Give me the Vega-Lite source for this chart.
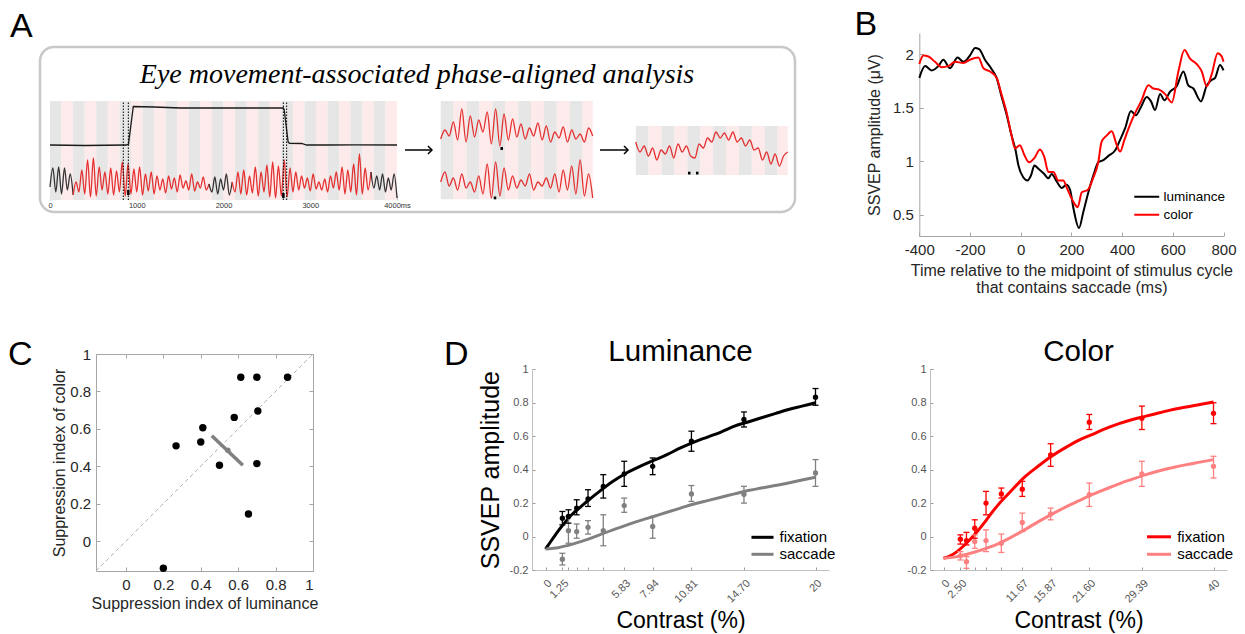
{
"$schema":"https://vega.github.io/schema/vega-lite/v6.json",
"padding":{"left":8,"top":8,"right":2,"bottom":2},
"background":"white",
"config":{"view":{"stroke":null},"font":"Liberation Sans","axis":{"grid":false,"titleFontWeight":"normal"},"title":{"fontWeight":"normal","color":"#000000"},"legend":{"labelFont":"Liberation Sans"}},
"datasets":{
"aBox":[{"t":-115.3,"t2":8587.9,"v":0,"v2":165}],
"aTitle":[{"t":4231,"v":128.7,"label":"Eye movement-associated phase-aligned analysis"}],
"aBands":[
{"t":0,"t2":133.3,"v":12,"v2":111,"c":"g"},{"t":133.3,"t2":266.7,"v":12,"v2":111,"c":"p"},{"t":266.7,"t2":400,"v":12,"v2":111,"c":"g"},{"t":400,"t2":533.3,"v":12,"v2":111,"c":"p"},{"t":533.3,"t2":666.7,"v":12,"v2":111,"c":"g"},{"t":666.7,"t2":800,"v":12,"v2":111,"c":"p"},{"t":800,"t2":933.3,"v":12,"v2":111,"c":"g"},{"t":933.3,"t2":1066.7,"v":12,"v2":111,"c":"p"},{"t":1066.7,"t2":1200,"v":12,"v2":111,"c":"g"},{"t":1200,"t2":1333.3,"v":12,"v2":111,"c":"p"},{"t":1333.3,"t2":1466.7,"v":12,"v2":111,"c":"g"},{"t":1466.7,"t2":1600,"v":12,"v2":111,"c":"p"},{"t":1600,"t2":1733.3,"v":12,"v2":111,"c":"g"},{"t":1733.3,"t2":1866.7,"v":12,"v2":111,"c":"p"},{"t":1866.7,"t2":2000,"v":12,"v2":111,"c":"g"},{"t":2000,"t2":2133.3,"v":12,"v2":111,"c":"p"},{"t":2133.3,"t2":2266.7,"v":12,"v2":111,"c":"g"},{"t":2266.7,"t2":2400,"v":12,"v2":111,"c":"p"},{"t":2400,"t2":2533.3,"v":12,"v2":111,"c":"g"},{"t":2533.3,"t2":2666.7,"v":12,"v2":111,"c":"p"},{"t":2666.7,"t2":2800,"v":12,"v2":111,"c":"g"},{"t":2800,"t2":2933.3,"v":12,"v2":111,"c":"p"},{"t":2933.3,"t2":3066.7,"v":12,"v2":111,"c":"g"},{"t":3066.7,"t2":3200,"v":12,"v2":111,"c":"p"},{"t":3200,"t2":3333.3,"v":12,"v2":111,"c":"g"},{"t":3333.3,"t2":3466.7,"v":12,"v2":111,"c":"p"},{"t":3466.7,"t2":3600,"v":12,"v2":111,"c":"g"},{"t":3600,"t2":3733.3,"v":12,"v2":111,"c":"p"},{"t":3733.3,"t2":3866.7,"v":12,"v2":111,"c":"g"},{"t":3866.7,"t2":4000,"v":12,"v2":111,"c":"p"},
{"t":4504,"t2":4652.7,"v":12.7,"v2":111,"c":"g"},{"t":4652.7,"t2":4801.4,"v":12.7,"v2":111,"c":"p"},{"t":4801.4,"t2":4950.1,"v":12.7,"v2":111,"c":"g"},{"t":4950.1,"t2":5098.8,"v":12.7,"v2":111,"c":"p"},{"t":5098.8,"t2":5247.5,"v":12.7,"v2":111,"c":"g"},{"t":5247.5,"t2":5396.2,"v":12.7,"v2":111,"c":"p"},{"t":5396.2,"t2":5544.9,"v":12.7,"v2":111,"c":"g"},{"t":5544.9,"t2":5693.6,"v":12.7,"v2":111,"c":"p"},{"t":5693.6,"t2":5842.3,"v":12.7,"v2":111,"c":"g"},{"t":5842.3,"t2":5991,"v":12.7,"v2":111,"c":"p"},{"t":5991,"t2":6139.7,"v":12.7,"v2":111,"c":"g"},{"t":6139.7,"t2":6256,"v":12.7,"v2":111,"c":"p"},
{"t":6752,"t2":6900.7,"v":37,"v2":86,"c":"g"},{"t":6900.7,"t2":7049.4,"v":37,"v2":86,"c":"p"},{"t":7049.4,"t2":7198.1,"v":37,"v2":86,"c":"g"},{"t":7198.1,"t2":7346.8,"v":37,"v2":86,"c":"p"},{"t":7346.8,"t2":7495.5,"v":37,"v2":86,"c":"g"},{"t":7495.5,"t2":7644.2,"v":37,"v2":86,"c":"p"},{"t":7644.2,"t2":7792.9,"v":37,"v2":86,"c":"g"},{"t":7792.9,"t2":7941.6,"v":37,"v2":86,"c":"p"},{"t":7941.6,"t2":8090.3,"v":37,"v2":86,"c":"g"},{"t":8090.3,"t2":8239,"v":37,"v2":86,"c":"p"},{"t":8239,"t2":8387.7,"v":37,"v2":86,"c":"g"},{"t":8387.7,"t2":8504,"v":37,"v2":86,"c":"p"}
],
"aTrace":[
{"t":0,"v":25,"g":"L1","k":"k"},{"t":33,"v":44,"g":"L1","k":"k"},{"t":67,"v":20,"g":"L1","k":"k"},{"t":100,"v":45,"g":"L1","k":"k"},{"t":133,"v":18,"g":"L1","k":"k"},{"t":167,"v":44,"g":"L1","k":"k"},{"t":200,"v":22,"g":"L1","k":"k"},{"t":233,"v":38,"g":"L1","k":"k"},{"t":267,"v":17,"g":"L1","k":"k"},
{"t":267,"v":17,"g":"L2","k":"r"},{"t":300,"v":30,"g":"L2","k":"r"},{"t":333,"v":20,"g":"L2","k":"r"},{"t":367,"v":42,"g":"L2","k":"r"},{"t":400,"v":18,"g":"L2","k":"r"},{"t":433,"v":52,"g":"L2","k":"r"},{"t":467,"v":15,"g":"L2","k":"r"},{"t":500,"v":54,"g":"L2","k":"r"},{"t":533,"v":16,"g":"L2","k":"r"},{"t":567,"v":45,"g":"L2","k":"r"},{"t":600,"v":22,"g":"L2","k":"r"},{"t":633,"v":40,"g":"L2","k":"r"},{"t":667,"v":18,"g":"L2","k":"r"},{"t":700,"v":44,"g":"L2","k":"r"},{"t":733,"v":17,"g":"L2","k":"r"},{"t":767,"v":41,"g":"L2","k":"r"},{"t":800,"v":20,"g":"L2","k":"r"},{"t":833,"v":50,"g":"L2","k":"r"},{"t":867,"v":16,"g":"L2","k":"r"},{"t":900,"v":48,"g":"L2","k":"r"},{"t":933,"v":18,"g":"L2","k":"r"},{"t":967,"v":43,"g":"L2","k":"r"},{"t":1000,"v":20,"g":"L2","k":"r"},{"t":1033,"v":45,"g":"L2","k":"r"},{"t":1067,"v":17,"g":"L2","k":"r"},{"t":1100,"v":38,"g":"L2","k":"r"},{"t":1133,"v":21,"g":"L2","k":"r"},{"t":1167,"v":40,"g":"L2","k":"r"},{"t":1200,"v":18,"g":"L2","k":"r"},{"t":1233,"v":36,"g":"L2","k":"r"},{"t":1267,"v":22,"g":"L2","k":"r"},{"t":1300,"v":33,"g":"L2","k":"r"},{"t":1333,"v":19,"g":"L2","k":"r"},{"t":1367,"v":36,"g":"L2","k":"r"},{"t":1400,"v":23,"g":"L2","k":"r"},{"t":1433,"v":34,"g":"L2","k":"r"},{"t":1467,"v":20,"g":"L2","k":"r"},{"t":1500,"v":37,"g":"L2","k":"r"},{"t":1533,"v":24,"g":"L2","k":"r"},{"t":1567,"v":31,"g":"L2","k":"r"},{"t":1600,"v":22,"g":"L2","k":"r"},{"t":1633,"v":38,"g":"L2","k":"r"},{"t":1667,"v":21,"g":"L2","k":"r"},{"t":1700,"v":30,"g":"L2","k":"r"},{"t":1733,"v":24,"g":"L2","k":"r"},{"t":1767,"v":35,"g":"L2","k":"r"},{"t":1800,"v":22,"g":"L2","k":"r"},{"t":1833,"v":28,"g":"L2","k":"r"},
{"t":1833,"v":28,"g":"L3","k":"k"},{"t":1867,"v":20,"g":"L3","k":"k"},{"t":1900,"v":35,"g":"L3","k":"k"},{"t":1933,"v":18,"g":"L3","k":"k"},{"t":1967,"v":33,"g":"L3","k":"k"},{"t":2000,"v":22,"g":"L3","k":"k"},{"t":2033,"v":38,"g":"L3","k":"k"},{"t":2067,"v":17,"g":"L3","k":"k"},{"t":2100,"v":30,"g":"L3","k":"k"},
{"t":2100,"v":30,"g":"L4","k":"r"},{"t":2133,"v":20,"g":"L4","k":"r"},{"t":2167,"v":40,"g":"L4","k":"r"},{"t":2200,"v":18,"g":"L4","k":"r"},{"t":2233,"v":42,"g":"L4","k":"r"},{"t":2267,"v":17,"g":"L4","k":"r"},{"t":2300,"v":36,"g":"L4","k":"r"},{"t":2333,"v":19,"g":"L4","k":"r"},{"t":2367,"v":45,"g":"L4","k":"r"},{"t":2400,"v":16,"g":"L4","k":"r"},{"t":2433,"v":40,"g":"L4","k":"r"},{"t":2467,"v":20,"g":"L4","k":"r"},{"t":2500,"v":47,"g":"L4","k":"r"},{"t":2533,"v":15,"g":"L4","k":"r"},{"t":2567,"v":50,"g":"L4","k":"r"},{"t":2600,"v":14,"g":"L4","k":"r"},{"t":2633,"v":46,"g":"L4","k":"r"},{"t":2667,"v":16,"g":"L4","k":"r"},{"t":2700,"v":52,"g":"L4","k":"r"},{"t":2733,"v":15,"g":"L4","k":"r"},{"t":2767,"v":44,"g":"L4","k":"r"},{"t":2800,"v":20,"g":"L4","k":"r"},{"t":2833,"v":40,"g":"L4","k":"r"},{"t":2867,"v":22,"g":"L4","k":"r"},{"t":2900,"v":36,"g":"L4","k":"r"},{"t":2933,"v":24,"g":"L4","k":"r"},{"t":2967,"v":34,"g":"L4","k":"r"},{"t":3000,"v":21,"g":"L4","k":"r"},{"t":3033,"v":38,"g":"L4","k":"r"},{"t":3067,"v":23,"g":"L4","k":"r"},{"t":3100,"v":30,"g":"L4","k":"r"},{"t":3133,"v":22,"g":"L4","k":"r"},{"t":3167,"v":33,"g":"L4","k":"r"},{"t":3200,"v":20,"g":"L4","k":"r"},{"t":3233,"v":36,"g":"L4","k":"r"},{"t":3267,"v":24,"g":"L4","k":"r"},{"t":3300,"v":40,"g":"L4","k":"r"},{"t":3333,"v":22,"g":"L4","k":"r"},{"t":3367,"v":45,"g":"L4","k":"r"},{"t":3400,"v":18,"g":"L4","k":"r"},{"t":3433,"v":42,"g":"L4","k":"r"},{"t":3467,"v":20,"g":"L4","k":"r"},{"t":3500,"v":48,"g":"L4","k":"r"},{"t":3533,"v":17,"g":"L4","k":"r"},{"t":3567,"v":58,"g":"L4","k":"r"},{"t":3600,"v":18,"g":"L4","k":"r"},{"t":3633,"v":44,"g":"L4","k":"r"},{"t":3667,"v":22,"g":"L4","k":"r"},{"t":3700,"v":40,"g":"L4","k":"r"},
{"t":3700,"v":40,"g":"L5","k":"k"},{"t":3733,"v":24,"g":"L5","k":"k"},{"t":3767,"v":36,"g":"L5","k":"k"},{"t":3800,"v":22,"g":"L5","k":"k"},{"t":3833,"v":38,"g":"L5","k":"k"},{"t":3867,"v":20,"g":"L5","k":"k"},{"t":3900,"v":34,"g":"L5","k":"k"},{"t":3933,"v":22,"g":"L5","k":"k"},{"t":3967,"v":38,"g":"L5","k":"k"},{"t":4000,"v":14,"g":"L5","k":"k"},
{"t":4504,"v":73,"g":"M1","k":"r"},{"t":4553,"v":82,"g":"M1","k":"r"},{"t":4601,"v":76,"g":"M1","k":"r"},{"t":4650,"v":90,"g":"M1","k":"r"},{"t":4699,"v":72,"g":"M1","k":"r"},{"t":4747,"v":103,"g":"M1","k":"r"},{"t":4796,"v":70,"g":"M1","k":"r"},{"t":4845,"v":96,"g":"M1","k":"r"},{"t":4894,"v":75,"g":"M1","k":"r"},{"t":4942,"v":92,"g":"M1","k":"r"},{"t":4991,"v":80,"g":"M1","k":"r"},{"t":5040,"v":100,"g":"M1","k":"r"},{"t":5088,"v":68,"g":"M1","k":"r"},{"t":5137,"v":103,"g":"M1","k":"r"},{"t":5186,"v":66,"g":"M1","k":"r"},{"t":5234,"v":98,"g":"M1","k":"r"},{"t":5283,"v":72,"g":"M1","k":"r"},{"t":5332,"v":93,"g":"M1","k":"r"},{"t":5381,"v":75,"g":"M1","k":"r"},{"t":5429,"v":88,"g":"M1","k":"r"},{"t":5478,"v":73,"g":"M1","k":"r"},{"t":5527,"v":84,"g":"M1","k":"r"},{"t":5575,"v":76,"g":"M1","k":"r"},{"t":5624,"v":89,"g":"M1","k":"r"},{"t":5673,"v":72,"g":"M1","k":"r"},{"t":5721,"v":86,"g":"M1","k":"r"},{"t":5770,"v":70,"g":"M1","k":"r"},{"t":5819,"v":80,"g":"M1","k":"r"},{"t":5868,"v":74,"g":"M1","k":"r"},{"t":5916,"v":85,"g":"M1","k":"r"},{"t":5965,"v":70,"g":"M1","k":"r"},{"t":6014,"v":82,"g":"M1","k":"r"},{"t":6062,"v":73,"g":"M1","k":"r"},{"t":6111,"v":78,"g":"M1","k":"r"},{"t":6160,"v":70,"g":"M1","k":"r"},{"t":6208,"v":84,"g":"M1","k":"r"},{"t":6256,"v":76,"g":"M1","k":"r"},
{"t":4504,"v":30,"g":"M2","k":"r"},{"t":4553,"v":40,"g":"M2","k":"r"},{"t":4601,"v":26,"g":"M2","k":"r"},{"t":4650,"v":34,"g":"M2","k":"r"},{"t":4699,"v":22,"g":"M2","k":"r"},{"t":4747,"v":38,"g":"M2","k":"r"},{"t":4796,"v":24,"g":"M2","k":"r"},{"t":4845,"v":30,"g":"M2","k":"r"},{"t":4894,"v":20,"g":"M2","k":"r"},{"t":4942,"v":36,"g":"M2","k":"r"},{"t":4991,"v":18,"g":"M2","k":"r"},{"t":5040,"v":48,"g":"M2","k":"r"},{"t":5088,"v":14,"g":"M2","k":"r"},{"t":5137,"v":50,"g":"M2","k":"r"},{"t":5186,"v":16,"g":"M2","k":"r"},{"t":5234,"v":44,"g":"M2","k":"r"},{"t":5283,"v":22,"g":"M2","k":"r"},{"t":5332,"v":36,"g":"M2","k":"r"},{"t":5381,"v":24,"g":"M2","k":"r"},{"t":5429,"v":32,"g":"M2","k":"r"},{"t":5478,"v":26,"g":"M2","k":"r"},{"t":5527,"v":38,"g":"M2","k":"r"},{"t":5575,"v":22,"g":"M2","k":"r"},{"t":5624,"v":30,"g":"M2","k":"r"},{"t":5673,"v":26,"g":"M2","k":"r"},{"t":5721,"v":34,"g":"M2","k":"r"},{"t":5770,"v":24,"g":"M2","k":"r"},{"t":5819,"v":38,"g":"M2","k":"r"},{"t":5868,"v":20,"g":"M2","k":"r"},{"t":5916,"v":42,"g":"M2","k":"r"},{"t":5965,"v":22,"g":"M2","k":"r"},{"t":6014,"v":46,"g":"M2","k":"r"},{"t":6062,"v":18,"g":"M2","k":"r"},{"t":6111,"v":52,"g":"M2","k":"r"},{"t":6160,"v":16,"g":"M2","k":"r"},{"t":6208,"v":38,"g":"M2","k":"r"},{"t":6256,"v":14,"g":"M2","k":"r"},
{"t":6752,"v":70,"g":"R1","k":"r"},{"t":6801,"v":60,"g":"R1","k":"r"},{"t":6849,"v":66,"g":"R1","k":"r"},{"t":6898,"v":56,"g":"R1","k":"r"},{"t":6947,"v":64,"g":"R1","k":"r"},{"t":6995,"v":52,"g":"R1","k":"r"},{"t":7044,"v":62,"g":"R1","k":"r"},{"t":7093,"v":58,"g":"R1","k":"r"},{"t":7142,"v":66,"g":"R1","k":"r"},{"t":7190,"v":54,"g":"R1","k":"r"},{"t":7239,"v":68,"g":"R1","k":"r"},{"t":7288,"v":60,"g":"R1","k":"r"},{"t":7336,"v":66,"g":"R1","k":"r"},{"t":7385,"v":56,"g":"R1","k":"r"},{"t":7434,"v":54,"g":"R1","k":"r"},{"t":7482,"v":68,"g":"R1","k":"r"},{"t":7531,"v":64,"g":"R1","k":"r"},{"t":7580,"v":74,"g":"R1","k":"r"},{"t":7629,"v":70,"g":"R1","k":"r"},{"t":7677,"v":80,"g":"R1","k":"r"},{"t":7726,"v":74,"g":"R1","k":"r"},{"t":7775,"v":79,"g":"R1","k":"r"},{"t":7823,"v":72,"g":"R1","k":"r"},{"t":7872,"v":80,"g":"R1","k":"r"},{"t":7921,"v":70,"g":"R1","k":"r"},{"t":7969,"v":74,"g":"R1","k":"r"},{"t":8018,"v":66,"g":"R1","k":"r"},{"t":8067,"v":72,"g":"R1","k":"r"},{"t":8116,"v":62,"g":"R1","k":"r"},{"t":8164,"v":64,"g":"R1","k":"r"},{"t":8213,"v":52,"g":"R1","k":"r"},{"t":8262,"v":60,"g":"R1","k":"r"},{"t":8310,"v":48,"g":"R1","k":"r"},{"t":8359,"v":58,"g":"R1","k":"r"},{"t":8408,"v":46,"g":"R1","k":"r"},{"t":8456,"v":56,"g":"R1","k":"r"},{"t":8504,"v":60,"g":"R1","k":"r"}
],
"aStep":[{"t":0,"v":67},{"t":400,"v":66.5},{"t":880,"v":67},{"t":905,"v":68},{"t":960,"v":105.5},{"t":1200,"v":105},{"t":1500,"v":104},{"t":2000,"v":104},{"t":2500,"v":104},{"t":2690,"v":104},{"t":2700,"v":102},{"t":2745,"v":70},{"t":2760,"v":68.7},{"t":2900,"v":68.5},{"t":2960,"v":67},{"t":3200,"v":67},{"t":3500,"v":67.2},{"t":4000,"v":67}],
"aDots":[{"t":845,"v":12,"v2":111},{"t":903,"v":12,"v2":111},{"t":2690,"v":12,"v2":111},{"t":2728,"v":12,"v2":111}],
"aMarks":[{"t":903,"v":17,"v2":22},{"t":2690,"v":14,"v2":19},{"t":5207,"v":62,"v2":65},{"t":5130,"v":12.7,"v2":15.5},{"t":7369,"v":37.5,"v2":40.3},{"t":7461,"v":37.5,"v2":40.3}],
"aArrows":[{"t":4092,"t2":4398,"v":62},{"t":6340,"t2":6658,"v":62}],
"aHeads":[{"t":4403,"v":62},{"t":6663,"v":62}],
"bData":[
{"t":-400,"a":1.78,"s":"luminance"},{"t":-377,"a":1.89,"s":"luminance"},{"t":-351,"a":1.85,"s":"luminance"},{"t":-325,"a":1.89,"s":"luminance"},{"t":-305,"a":1.95,"s":"luminance"},{"t":-279,"a":1.87,"s":"luminance"},{"t":-249,"a":1.97,"s":"luminance"},{"t":-226,"a":1.93,"s":"luminance"},{"t":-200,"a":1.99,"s":"luminance"},{"t":-180,"a":2.06,"s":"luminance"},{"t":-164,"a":2.05,"s":"luminance"},{"t":-141,"a":1.95,"s":"luminance"},{"t":-117,"a":1.87,"s":"luminance"},{"t":-95,"a":1.78,"s":"luminance"},{"t":-75,"a":1.6,"s":"luminance"},{"t":-55,"a":1.43,"s":"luminance"},{"t":-36,"a":1.24,"s":"luminance"},{"t":-20,"a":1.1,"s":"luminance"},{"t":-9,"a":0.96,"s":"luminance"},{"t":10,"a":0.85,"s":"luminance"},{"t":27,"a":0.82,"s":"luminance"},{"t":41,"a":0.87,"s":"luminance"},{"t":54,"a":0.96,"s":"luminance"},{"t":70,"a":0.93,"s":"luminance"},{"t":93,"a":0.88,"s":"luminance"},{"t":109,"a":0.84,"s":"luminance"},{"t":122,"a":0.88,"s":"luminance"},{"t":142,"a":0.81,"s":"luminance"},{"t":162,"a":0.75,"s":"luminance"},{"t":181,"a":0.78,"s":"luminance"},{"t":195,"a":0.73,"s":"luminance"},{"t":208,"a":0.56,"s":"luminance"},{"t":230,"a":0.375,"s":"luminance"},{"t":247,"a":0.525,"s":"luminance"},{"t":267,"a":0.71,"s":"luminance"},{"t":287,"a":0.87,"s":"luminance"},{"t":306,"a":0.99,"s":"luminance"},{"t":326,"a":1.01,"s":"luminance"},{"t":346,"a":1.05,"s":"luminance"},{"t":372,"a":1.1,"s":"luminance"},{"t":392,"a":1.2,"s":"luminance"},{"t":412,"a":1.31,"s":"luminance"},{"t":435,"a":1.47,"s":"luminance"},{"t":454,"a":1.43,"s":"luminance"},{"t":475,"a":1.51,"s":"luminance"},{"t":497,"a":1.6,"s":"luminance"},{"t":514,"a":1.56,"s":"luminance"},{"t":530,"a":1.48,"s":"luminance"},{"t":550,"a":1.63,"s":"luminance"},{"t":567,"a":1.57,"s":"luminance"},{"t":589,"a":1.65,"s":"luminance"},{"t":615,"a":1.7,"s":"luminance"},{"t":642,"a":1.84,"s":"luminance"},{"t":661,"a":1.71,"s":"luminance"},{"t":681,"a":1.68,"s":"luminance"},{"t":711,"a":1.56,"s":"luminance"},{"t":734,"a":1.71,"s":"luminance"},{"t":753,"a":1.76,"s":"luminance"},{"t":767,"a":1.78,"s":"luminance"},{"t":786,"a":1.9,"s":"luminance"},{"t":800,"a":1.85,"s":"luminance"},
{"t":-400,"a":1.91,"s":"color"},{"t":-384,"a":1.99,"s":"color"},{"t":-364,"a":1.98,"s":"color"},{"t":-338,"a":1.93,"s":"color"},{"t":-312,"a":1.88,"s":"color"},{"t":-285,"a":1.89,"s":"color"},{"t":-259,"a":1.93,"s":"color"},{"t":-226,"a":1.92,"s":"color"},{"t":-200,"a":1.95,"s":"color"},{"t":-167,"a":1.97,"s":"color"},{"t":-147,"a":1.87,"s":"color"},{"t":-121,"a":1.84,"s":"color"},{"t":-95,"a":1.78,"s":"color"},{"t":-75,"a":1.62,"s":"color"},{"t":-55,"a":1.45,"s":"color"},{"t":-36,"a":1.24,"s":"color"},{"t":-22,"a":1.12,"s":"color"},{"t":-3,"a":1.15,"s":"color"},{"t":14,"a":1.06,"s":"color"},{"t":33,"a":0.99,"s":"color"},{"t":54,"a":1.03,"s":"color"},{"t":76,"a":1.11,"s":"color"},{"t":93,"a":1.04,"s":"color"},{"t":109,"a":0.9,"s":"color"},{"t":129,"a":0.9,"s":"color"},{"t":148,"a":0.82,"s":"color"},{"t":168,"a":0.82,"s":"color"},{"t":182,"a":0.75,"s":"color"},{"t":197,"a":0.67,"s":"color"},{"t":210,"a":0.61,"s":"color"},{"t":225,"a":0.57,"s":"color"},{"t":241,"a":0.71,"s":"color"},{"t":264,"a":0.73,"s":"color"},{"t":287,"a":0.85,"s":"color"},{"t":306,"a":0.99,"s":"color"},{"t":319,"a":1.18,"s":"color"},{"t":339,"a":1.24,"s":"color"},{"t":359,"a":1.28,"s":"color"},{"t":379,"a":1.15,"s":"color"},{"t":392,"a":1.09,"s":"color"},{"t":409,"a":1.2,"s":"color"},{"t":431,"a":1.34,"s":"color"},{"t":451,"a":1.45,"s":"color"},{"t":475,"a":1.56,"s":"color"},{"t":504,"a":1.71,"s":"color"},{"t":523,"a":1.68,"s":"color"},{"t":546,"a":1.67,"s":"color"},{"t":569,"a":1.63,"s":"color"},{"t":596,"a":1.55,"s":"color"},{"t":622,"a":1.84,"s":"color"},{"t":646,"a":2.04,"s":"color"},{"t":668,"a":1.96,"s":"color"},{"t":694,"a":1.91,"s":"color"},{"t":714,"a":1.84,"s":"color"},{"t":734,"a":1.7,"s":"color"},{"t":753,"a":1.81,"s":"color"},{"t":777,"a":2.01,"s":"color"},{"t":793,"a":1.98,"s":"color"},{"t":800,"a":1.93,"s":"color"}
],
"cPts":[{"x":0.2,"y":-0.145},{"x":0.268,"y":0.509},{"x":0.4,"y":0.53},{"x":0.411,"y":0.606},{"x":0.5,"y":0.405},{"x":0.614,"y":0.876},{"x":0.7,"y":0.876},{"x":0.864,"y":0.876},{"x":0.579,"y":0.661},{"x":0.705,"y":0.695},{"x":0.7,"y":0.414},{"x":0.655,"y":0.145}],
"cDiag":[{"x":-0.16,"y":-0.16},{"x":1,"y":1}],
"cBar":[{"x":0.459,"y":0.563},{"x":0.625,"y":0.405}],
"cMean":[{"x":0.545,"y":0.486}],
"lumPts":[
{"c":1.25,"m":0.11,"lo":0.07,"hi":0.15,"g":"fixation"},{"c":1.7,"m":0.12,"lo":0.08,"hi":0.16,"g":"fixation"},{"c":2.31,"m":0.17,"lo":0.13,"hi":0.22,"g":"fixation"},{"c":3.15,"m":0.225,"lo":0.18,"hi":0.28,"g":"fixation"},{"c":4.28,"m":0.3,"lo":0.23,"hi":0.37,"g":"fixation"},{"c":5.83,"m":0.375,"lo":0.3,"hi":0.45,"g":"fixation"},{"c":7.94,"m":0.42,"lo":0.37,"hi":0.47,"g":"fixation"},{"c":10.81,"m":0.57,"lo":0.51,"hi":0.63,"g":"fixation"},{"c":14.7,"m":0.7,"lo":0.655,"hi":0.745,"g":"fixation"},{"c":20,"m":0.833,"lo":0.785,"hi":0.885,"g":"fixation"},
{"c":1.25,"m":-0.135,"lo":-0.17,"hi":-0.1,"g":"saccade"},{"c":1.7,"m":0.035,"lo":-0.04,"hi":0.12,"g":"saccade"},{"c":2.31,"m":0.03,"lo":-0.01,"hi":0.075,"g":"saccade"},{"c":3.15,"m":0.055,"lo":0.015,"hi":0.095,"g":"saccade"},{"c":4.28,"m":0.035,"lo":-0.055,"hi":0.13,"g":"saccade"},{"c":5.83,"m":0.185,"lo":0.145,"hi":0.23,"g":"saccade"},{"c":7.94,"m":0.06,"lo":-0.01,"hi":0.12,"g":"saccade"},{"c":10.81,"m":0.255,"lo":0.21,"hi":0.305,"g":"saccade"},{"c":14.7,"m":0.253,"lo":0.2,"hi":0.3,"g":"saccade"},{"c":20,"m":0.38,"lo":0.3,"hi":0.46,"g":"saccade"}
],
"lumCurve":[
{"c":0,"m":-0.075,"g":"fixation"},{"c":0.3,"m":-0.04,"g":"fixation"},{"c":0.6,"m":-0.005,"g":"fixation"},{"c":1,"m":0.04,"g":"fixation"},{"c":1.5,"m":0.09,"g":"fixation"},{"c":2,"m":0.135,"g":"fixation"},{"c":2.5,"m":0.17,"g":"fixation"},{"c":3,"m":0.205,"g":"fixation"},{"c":4,"m":0.27,"g":"fixation"},{"c":5,"m":0.33,"g":"fixation"},{"c":6,"m":0.38,"g":"fixation"},{"c":7,"m":0.42,"g":"fixation"},{"c":8,"m":0.455,"g":"fixation"},{"c":9,"m":0.49,"g":"fixation"},{"c":10,"m":0.53,"g":"fixation"},{"c":11,"m":0.565,"g":"fixation"},{"c":12,"m":0.595,"g":"fixation"},{"c":13,"m":0.625,"g":"fixation"},{"c":14,"m":0.66,"g":"fixation"},{"c":15,"m":0.685,"g":"fixation"},{"c":16,"m":0.71,"g":"fixation"},{"c":17,"m":0.735,"g":"fixation"},{"c":18,"m":0.76,"g":"fixation"},{"c":19,"m":0.78,"g":"fixation"},{"c":20,"m":0.8,"g":"fixation"},
{"c":0,"m":-0.075,"g":"saccade"},{"c":1,"m":-0.065,"g":"saccade"},{"c":2,"m":-0.045,"g":"saccade"},{"c":3,"m":-0.02,"g":"saccade"},{"c":4,"m":0.01,"g":"saccade"},{"c":5,"m":0.04,"g":"saccade"},{"c":6,"m":0.068,"g":"saccade"},{"c":7,"m":0.095,"g":"saccade"},{"c":8,"m":0.12,"g":"saccade"},{"c":9,"m":0.145,"g":"saccade"},{"c":10,"m":0.17,"g":"saccade"},{"c":11,"m":0.195,"g":"saccade"},{"c":12,"m":0.215,"g":"saccade"},{"c":13,"m":0.235,"g":"saccade"},{"c":14,"m":0.255,"g":"saccade"},{"c":15,"m":0.275,"g":"saccade"},{"c":16,"m":0.29,"g":"saccade"},{"c":17,"m":0.305,"g":"saccade"},{"c":18,"m":0.32,"g":"saccade"},{"c":19,"m":0.338,"g":"saccade"},{"c":20,"m":0.355,"g":"saccade"}
],
"colPts":[
{"c":2.5,"m":-0.016,"lo":-0.045,"hi":0.01,"g":"fixation"},{"c":3.4,"m":-0.024,"lo":-0.05,"hi":0.025,"g":"fixation"},{"c":4.63,"m":0.05,"lo":-0.01,"hi":0.1,"g":"fixation"},{"c":6.3,"m":0.2,"lo":0.13,"hi":0.27,"g":"fixation"},{"c":8.57,"m":0.255,"lo":0.23,"hi":0.29,"g":"fixation"},{"c":11.67,"m":0.283,"lo":0.24,"hi":0.33,"g":"fixation"},{"c":15.87,"m":0.488,"lo":0.42,"hi":0.555,"g":"fixation"},{"c":21.6,"m":0.684,"lo":0.64,"hi":0.73,"g":"fixation"},{"c":29.39,"m":0.707,"lo":0.64,"hi":0.78,"g":"fixation"},{"c":40,"m":0.737,"lo":0.675,"hi":0.8,"g":"fixation"},
{"c":2.5,"m":-0.115,"lo":-0.14,"hi":-0.09,"g":"saccade"},{"c":3.4,"m":-0.15,"lo":-0.19,"hi":-0.12,"g":"saccade"},{"c":4.63,"m":-0.03,"lo":-0.07,"hi":0.01,"g":"saccade"},{"c":6.3,"m":-0.024,"lo":-0.09,"hi":0.04,"g":"saccade"},{"c":8.57,"m":-0.04,"lo":-0.095,"hi":0.015,"g":"saccade"},{"c":11.67,"m":0.084,"lo":0.03,"hi":0.14,"g":"saccade"},{"c":15.87,"m":0.135,"lo":0.1,"hi":0.17,"g":"saccade"},{"c":21.6,"m":0.25,"lo":0.18,"hi":0.32,"g":"saccade"},{"c":29.39,"m":0.375,"lo":0.3,"hi":0.45,"g":"saccade"},{"c":40,"m":0.42,"lo":0.35,"hi":0.48,"g":"saccade"}
],
"colCurve":[
{"c":0,"m":-0.13,"g":"fixation"},{"c":1,"m":-0.115,"g":"fixation"},{"c":2,"m":-0.09,"g":"fixation"},{"c":3,"m":-0.055,"g":"fixation"},{"c":4,"m":-0.015,"g":"fixation"},{"c":5,"m":0.03,"g":"fixation"},{"c":6,"m":0.08,"g":"fixation"},{"c":7,"m":0.135,"g":"fixation"},{"c":8,"m":0.185,"g":"fixation"},{"c":9,"m":0.23,"g":"fixation"},{"c":10,"m":0.272,"g":"fixation"},{"c":11,"m":0.315,"g":"fixation"},{"c":12,"m":0.355,"g":"fixation"},{"c":14,"m":0.42,"g":"fixation"},{"c":16,"m":0.48,"g":"fixation"},{"c":18,"m":0.53,"g":"fixation"},{"c":20,"m":0.575,"g":"fixation"},{"c":22,"m":0.61,"g":"fixation"},{"c":24,"m":0.645,"g":"fixation"},{"c":26,"m":0.675,"g":"fixation"},{"c":28,"m":0.7,"g":"fixation"},{"c":30,"m":0.72,"g":"fixation"},{"c":32,"m":0.74,"g":"fixation"},{"c":34,"m":0.76,"g":"fixation"},{"c":36,"m":0.775,"g":"fixation"},{"c":38,"m":0.79,"g":"fixation"},{"c":40,"m":0.805,"g":"fixation"},
{"c":0,"m":-0.13,"g":"saccade"},{"c":2,"m":-0.12,"g":"saccade"},{"c":4,"m":-0.1,"g":"saccade"},{"c":6,"m":-0.075,"g":"saccade"},{"c":8,"m":-0.045,"g":"saccade"},{"c":10,"m":-0.005,"g":"saccade"},{"c":12,"m":0.04,"g":"saccade"},{"c":14,"m":0.088,"g":"saccade"},{"c":16,"m":0.133,"g":"saccade"},{"c":18,"m":0.175,"g":"saccade"},{"c":20,"m":0.213,"g":"saccade"},{"c":22,"m":0.25,"g":"saccade"},{"c":24,"m":0.283,"g":"saccade"},{"c":26,"m":0.315,"g":"saccade"},{"c":28,"m":0.343,"g":"saccade"},{"c":30,"m":0.37,"g":"saccade"},{"c":32,"m":0.393,"g":"saccade"},{"c":34,"m":0.413,"g":"saccade"},{"c":36,"m":0.43,"g":"saccade"},{"c":38,"m":0.445,"g":"saccade"},{"c":40,"m":0.46,"g":"saccade"}
]
},
"columns":6,
"align":"each",
"bounds":"flush",
"spacing":0,
"resolve":{"scale":{"x":"independent","y":"independent","color":"independent","fill":"independent","stroke":"independent"},"legend":{"color":"independent","fill":"independent","stroke":"independent"}},
"concat":[
 {"width":56,"height":179,
  "title":{"text":"A","anchor":"start","frame":"group","dx":-30,"offset":-38.3,"baseline":"alphabetic","fontSize":34,"color":"#000000"},
  "encoding":{
   "x":{"field":"t","type":"quantitative","scale":{"domain":[-115.3,8587.9],"range":[0,755],"nice":false,"zero":false},"axis":{"orient":"bottom","offset":-12,"values":[0,1000,2000,3000,4000],"format":"d","labelExpr":"datum.value == 4000 ? '4000ms' : datum.label","domain":false,"ticks":true,"tickSize":-5,"tickColor":"#c4c4c4","tickWidth":1.2,"labelFontSize":7.5,"labelColor":"#333333","labelPadding":6,"labelOverlap":false,"labelFlush":false,"title":null,"grid":false}},
   "y":{"field":"v","type":"quantitative","scale":{"domain":[0,179],"nice":false,"zero":false},"axis":null}
  },
  "layer":[
   {"data":{"name":"aBox"},"mark":{"type":"rect","filled":false,"stroke":"#c8c8c8","strokeWidth":2.5,"cornerRadius":14},"encoding":{"x2":{"field":"t2"},"y2":{"field":"v2"}}},
   {"data":{"name":"aTitle"},"mark":{"type":"text","font":"Liberation Serif","fontStyle":"italic","fontSize":28,"baseline":"alphabetic","align":"center","color":"#000000"},"encoding":{"text":{"field":"label"}}},
   {"data":{"name":"aBands"},"mark":{"type":"rect"},"encoding":{"x2":{"field":"t2"},"y2":{"field":"v2"},"fill":{"field":"c","type":"nominal","scale":{"domain":["g","p"],"range":["#e6e6e6","#fdeaea"]},"legend":null}}},
   {"data":{"name":"aTrace"},"mark":{"type":"line","strokeWidth":1.3,"interpolate":"monotone"},"encoding":{"detail":{"field":"g","type":"nominal"},"stroke":{"field":"k","type":"nominal","scale":{"domain":["k","r"],"range":["#333333","#e53030"]},"legend":null}}},
   {"data":{"name":"aStep"},"mark":{"type":"line","stroke":"#1a1a1a","strokeWidth":1.3},"encoding":{}},
   {"data":{"name":"aDots"},"mark":{"type":"rule","stroke":"#000000","strokeWidth":1,"strokeDash":[1.5,1.5]},"encoding":{"y2":{"field":"v2"}}},
   {"data":{"name":"aMarks"},"mark":{"type":"rule","stroke":"#000000","strokeWidth":2.5},"encoding":{"y2":{"field":"v2"}}},
   {"data":{"name":"aArrows"},"mark":{"type":"rule","stroke":"#000000","strokeWidth":1.5},"encoding":{"x2":{"field":"t2"}}},
   {"data":{"name":"aHeads"},"mark":{"type":"point","shape":"M-1,-1L0,0L-1,1","size":64,"filled":false,"stroke":"#000000","strokeWidth":1.5,"opacity":1},"encoding":{}}
  ]
 },
 {"width":1,"height":321,"data":{"values":[]},"mark":"point"},
 {"width":1,"height":1,"data":{"values":[]},"mark":"point"},
 {"width":1,"height":1,"data":{"values":[]},"mark":"point"},
 {"width":1,"height":1,"data":{"values":[]},"mark":"point"},
 {"width":293.5,"height":203,
  "data":{"name":"bData"},
  "title":{"text":"B","anchor":"start","frame":"group","dx":-75.5,"offset":-36,"baseline":"alphabetic","fontSize":34,"color":"#000000"},
  "mark":{"type":"line","strokeWidth":2,"interpolate":"monotone"},
  "encoding":{
   "x":{"field":"t","type":"quantitative","scale":{"domain":[-400,800],"range":[-10.7,293.5],"nice":false,"zero":false},"axis":{"values":[-400,-200,0,200,400,600,800],"labelExpr":"replace(format(datum.value,'d'),'\u2212','-')","labelFontSize":15,"labelColor":"#262626","tickSize":-4,"labelPadding":10,"domainColor":"#a6a6a6","tickColor":"#a6a6a6","title":["Time relative to the midpoint of stimulus cycle","that contains saccade (ms)"],"titleFontSize":16,"titleColor":"#262626","titlePadding":5,"titleLineHeight":17,"titleX":141.4,"labelOverlap":false,"labelFlush":false,"grid":false}},
   "y":{"field":"a","type":"quantitative","scale":{"domain":[0.3,2.2],"nice":false,"zero":false},"axis":{"offset":10.7,"values":[0.5,1,1.5,2],"labelExpr":"format(datum.value,'~g')","labelFontSize":15,"labelColor":"#262626","tickSize":-4,"labelPadding":10,"domainColor":"#a6a6a6","tickColor":"#a6a6a6","title":"SSVEP amplitude (μV)","titleFontSize":16,"titleColor":"#262626","titlePadding":10,"labelOverlap":false,"grid":false}},
   "color":{"field":"s","type":"nominal","scale":{"domain":["luminance","color"],"range":["#000000","#ff0000"]},"legend":{"orient":"none","legendX":210,"legendY":157,"title":null,"symbolType":"M-3,0H3","symbolSize":69,"symbolStrokeWidth":2,"labelFontSize":13.5,"labelOffset":10,"rowPadding":3,"padding":0,"labelColor":"#000000"}}
  }
 },
 {"width":56,"height":1,"data":{"values":[]},"mark":"point","title":{"text":"C","anchor":"start","frame":"group","dx":-32,"offset":-45,"baseline":"alphabetic","fontSize":34,"color":"#000000"}},
 {"width":217,"height":217,
  "view":{"stroke":"#a6a6a6","strokeWidth":1},
  "resolve":{"axis":{"x":"independent","y":"independent"}},
  "layer":[
   {"data":{"name":"cDiag"},"mark":{"type":"line","stroke":"#b3b3b3","strokeWidth":1,"strokeDash":[4,3]},
    "encoding":{"x":{"field":"x","type":"quantitative","scale":{"domain":[-0.16,1],"nice":false,"zero":false},"axis":{"orient":"top","values":[0,0.2,0.4,0.6,0.8,1],"labels":false,"domain":false,"tickSize":-4,"tickColor":"#a6a6a6","title":null,"grid":false}},
     "y":{"field":"y","type":"quantitative","scale":{"domain":[-0.16,1],"nice":false,"zero":false},"axis":{"orient":"right","values":[0,0.2,0.4,0.6,0.8,1],"labels":false,"domain":false,"tickSize":-4,"tickColor":"#a6a6a6","title":null,"grid":false}}}},
   {"data":{"name":"cBar"},"mark":{"type":"line","stroke":"#808080","strokeWidth":3.5},
    "encoding":{"x":{"field":"x","type":"quantitative","scale":{"domain":[-0.16,1],"nice":false,"zero":false},"axis":null},"y":{"field":"y","type":"quantitative","scale":{"domain":[-0.16,1],"nice":false,"zero":false},"axis":null}}},
   {"data":{"name":"cPts"},"mark":{"type":"point","filled":true,"size":55,"color":"#000000","opacity":1},
    "encoding":{"x":{"field":"x","type":"quantitative","scale":{"domain":[-0.16,1],"nice":false,"zero":false},"axis":{"orient":"bottom","values":[0,0.2,0.4,0.6,0.8,1],"labelExpr":"format(datum.value,'~g')","labelFontSize":15,"labelColor":"#262626","domain":false,"tickSize":-4,"tickColor":"#a6a6a6","labelPadding":10.5,"title":"Suppression index of luminance","titleFontSize":16,"titleColor":"#262626","titlePadding":3,"labelOverlap":false,"grid":false}},
     "y":{"field":"y","type":"quantitative","scale":{"domain":[-0.16,1],"nice":false,"zero":false},"axis":{"orient":"left","values":[0,0.2,0.4,0.6,0.8,1],"labelExpr":"format(datum.value,'~g')","labelFontSize":15,"labelColor":"#262626","domain":false,"tickSize":-4,"tickColor":"#a6a6a6","labelPadding":9.3,"title":"Suppression index of color","titleFontSize":16,"titleColor":"#262626","titlePadding":2,"labelOverlap":false,"grid":false}}}},
   {"data":{"name":"cMean"},"mark":{"type":"point","filled":true,"size":30,"color":"#808080","opacity":1},
    "encoding":{"x":{"field":"x","type":"quantitative","scale":{"domain":[-0.16,1],"nice":false,"zero":false},"axis":null},"y":{"field":"y","type":"quantitative","scale":{"domain":[-0.16,1],"nice":false,"zero":false},"axis":null}}}
  ]
 },
 {"width":219,"height":1,"data":{"values":[]},"mark":"point","title":{"text":"D","anchor":"start","frame":"group","dx":131,"offset":-45,"baseline":"alphabetic","fontSize":34,"color":"#000000"}},
 {"width":297,"height":216,
  "title":{"text":"Luminance","fontSize":29.5,"anchor":"middle","frame":"group","baseline":"alphabetic","offset":-36.2,"color":"#000000"},
  "resolve":{"axis":{"x":"independent","y":"independent"}},
  "layer":[
   {"data":{"name":"lumCurve"},"mark":{"type":"line","strokeWidth":3,"interpolate":"monotone"},
    "encoding":{
     "x":{"field":"c","type":"quantitative","scale":{"domain":[-1,21],"nice":false,"zero":false},"axis":{"values":[0,1.25,1.7,2.31,3.15,4.28,5.83,7.94,10.81,14.7,20],"labelExpr":"datum.value==0?'0':datum.value==20?'20':(datum.value==1.25||datum.value==5.83||datum.value==7.94||datum.value==10.81||datum.value==14.7)?format(datum.value,'.2f'):''","labelAngle":-45,"labelFontSize":11,"labelColor":"#555555","tickSize":-3,"tickColor":"#9a9a9a","domainColor":"#c0c0c0","labelPadding":10,"labelOverlap":false,"labelFlush":false,"title":"Contrast (%)","titleFontSize":23,"titleColor":"#000000","titlePadding":5,"grid":false}},
     "y":{"field":"m","type":"quantitative","scale":{"domain":[-0.2,1],"range":[216,15.3],"nice":false,"zero":false},"axis":{"values":[-0.2,0,0.2,0.4,0.6,0.8,1],"labelExpr":"replace(format(datum.value,'~g'),'\u2212','-')","labelFontSize":11,"labelColor":"#555555","tickSize":-3,"tickColor":"#9a9a9a","domainColor":"#c0c0c0","labelPadding":7,"title":"SSVEP amplitude","titleFontSize":25,"titleColor":"#000000","titlePadding":6,"labelOverlap":false,"grid":false}},
     "color":{"field":"g","type":"nominal","scale":{"domain":["fixation","saccade"],"range":["#000000","#808080"]},"legend":{"orient":"none","legendX":223,"legendY":175.8,"title":null,"symbolType":"M-3,0H3","symbolSize":54,"symbolStrokeWidth":3,"labelFontSize":15,"labelOffset":9.5,"rowPadding":1,"padding":0,"labelColor":"#000000"}}}},
   {"data":{"name":"lumPts"},"mark":{"type":"rule","strokeWidth":1.3},
    "encoding":{"x":{"field":"c","type":"quantitative","scale":{"domain":[-1,21],"nice":false,"zero":false},"axis":null},"y":{"field":"lo","type":"quantitative","scale":{"domain":[-0.2,1],"range":[216,15.3],"nice":false,"zero":false},"axis":null},"y2":{"field":"hi"},"color":{"field":"g","type":"nominal","scale":{"domain":["fixation","saccade"],"range":["#000000","#808080"]},"legend":null}}},
   {"data":{"name":"lumPts"},"mark":{"type":"tick","orient":"horizontal","size":6,"thickness":1.3,"opacity":1},
    "encoding":{"x":{"field":"c","type":"quantitative","scale":{"domain":[-1,21],"nice":false,"zero":false},"axis":null},"y":{"field":"lo","type":"quantitative","scale":{"domain":[-0.2,1],"range":[216,15.3],"nice":false,"zero":false},"axis":null},"color":{"field":"g","type":"nominal","scale":{"domain":["fixation","saccade"],"range":["#000000","#808080"]},"legend":null}}},
   {"data":{"name":"lumPts"},"mark":{"type":"tick","orient":"horizontal","size":6,"thickness":1.3,"opacity":1},
    "encoding":{"x":{"field":"c","type":"quantitative","scale":{"domain":[-1,21],"nice":false,"zero":false},"axis":null},"y":{"field":"hi","type":"quantitative","scale":{"domain":[-0.2,1],"range":[216,15.3],"nice":false,"zero":false},"axis":null},"color":{"field":"g","type":"nominal","scale":{"domain":["fixation","saccade"],"range":["#000000","#808080"]},"legend":null}}},
   {"data":{"name":"lumPts"},"mark":{"type":"point","filled":true,"size":28,"opacity":1},
    "encoding":{"x":{"field":"c","type":"quantitative","scale":{"domain":[-1,21],"nice":false,"zero":false},"axis":null},"y":{"field":"m","type":"quantitative","scale":{"domain":[-0.2,1],"range":[216,15.3],"nice":false,"zero":false},"axis":null},"color":{"field":"g","type":"nominal","scale":{"domain":["fixation","saccade"],"range":["#000000","#808080"]},"legend":null}}}
  ]
 },
 {"width":101,"height":1,"data":{"values":[]},"mark":"point"},
 {"width":297,"height":216,
  "title":{"text":"Color","fontSize":29.5,"anchor":"middle","frame":"group","baseline":"alphabetic","offset":-36.2,"color":"#000000"},
  "resolve":{"axis":{"x":"independent","y":"independent"}},
  "layer":[
   {"data":{"name":"colCurve"},"mark":{"type":"line","strokeWidth":3,"interpolate":"monotone"},
    "encoding":{
     "x":{"field":"c","type":"quantitative","scale":{"domain":[-2,42],"nice":false,"zero":false},"axis":{"values":[0,2.5,3.4,4.63,6.3,8.57,11.67,15.87,21.6,29.39,40],"labelExpr":"datum.value==0?'0':datum.value==40?'40':(datum.value==2.5||datum.value==11.67||datum.value==15.87||datum.value==21.6||datum.value==29.39)?format(datum.value,'.2f'):''","labelAngle":-45,"labelFontSize":11,"labelColor":"#555555","tickSize":-3,"tickColor":"#9a9a9a","domainColor":"#c0c0c0","labelPadding":10,"labelOverlap":false,"labelFlush":false,"title":"Contrast (%)","titleFontSize":23,"titleColor":"#000000","titlePadding":5,"grid":false}},
     "y":{"field":"m","type":"quantitative","scale":{"domain":[-0.2,1],"range":[216,15.3],"nice":false,"zero":false},"axis":{"values":[-0.2,0,0.2,0.4,0.6,0.8,1],"labelExpr":"replace(format(datum.value,'~g'),'\u2212','-')","labelFontSize":11,"labelColor":"#555555","tickSize":-3,"tickColor":"#9a9a9a","domainColor":"#c0c0c0","labelPadding":7,"title":null,"labelOverlap":false,"grid":false}},
     "color":{"field":"g","type":"nominal","scale":{"domain":["fixation","saccade"],"range":["#ff0000","#ff8080"]},"legend":{"orient":"none","legendX":221.5,"legendY":175.3,"title":null,"symbolType":"M-3,0H3","symbolSize":64,"symbolStrokeWidth":3,"labelFontSize":15,"labelOffset":10.7,"rowPadding":1.5,"padding":0,"labelColor":"#000000"}}}},
   {"data":{"name":"colPts"},"mark":{"type":"rule","strokeWidth":1.3},
    "encoding":{"x":{"field":"c","type":"quantitative","scale":{"domain":[-2,42],"nice":false,"zero":false},"axis":null},"y":{"field":"lo","type":"quantitative","scale":{"domain":[-0.2,1],"range":[216,15.3],"nice":false,"zero":false},"axis":null},"y2":{"field":"hi"},"color":{"field":"g","type":"nominal","scale":{"domain":["fixation","saccade"],"range":["#ff0000","#ff8080"]},"legend":null}}},
   {"data":{"name":"colPts"},"mark":{"type":"tick","orient":"horizontal","size":6,"thickness":1.3,"opacity":1},
    "encoding":{"x":{"field":"c","type":"quantitative","scale":{"domain":[-2,42],"nice":false,"zero":false},"axis":null},"y":{"field":"lo","type":"quantitative","scale":{"domain":[-0.2,1],"range":[216,15.3],"nice":false,"zero":false},"axis":null},"color":{"field":"g","type":"nominal","scale":{"domain":["fixation","saccade"],"range":["#ff0000","#ff8080"]},"legend":null}}},
   {"data":{"name":"colPts"},"mark":{"type":"tick","orient":"horizontal","size":6,"thickness":1.3,"opacity":1},
    "encoding":{"x":{"field":"c","type":"quantitative","scale":{"domain":[-2,42],"nice":false,"zero":false},"axis":null},"y":{"field":"hi","type":"quantitative","scale":{"domain":[-0.2,1],"range":[216,15.3],"nice":false,"zero":false},"axis":null},"color":{"field":"g","type":"nominal","scale":{"domain":["fixation","saccade"],"range":["#ff0000","#ff8080"]},"legend":null}}},
   {"data":{"name":"colPts"},"mark":{"type":"point","filled":true,"size":28,"opacity":1},
    "encoding":{"x":{"field":"c","type":"quantitative","scale":{"domain":[-2,42],"nice":false,"zero":false},"axis":null},"y":{"field":"m","type":"quantitative","scale":{"domain":[-0.2,1],"range":[216,15.3],"nice":false,"zero":false},"axis":null},"color":{"field":"g","type":"nominal","scale":{"domain":["fixation","saccade"],"range":["#ff0000","#ff8080"]},"legend":null}}}
  ]
 }
]
}
